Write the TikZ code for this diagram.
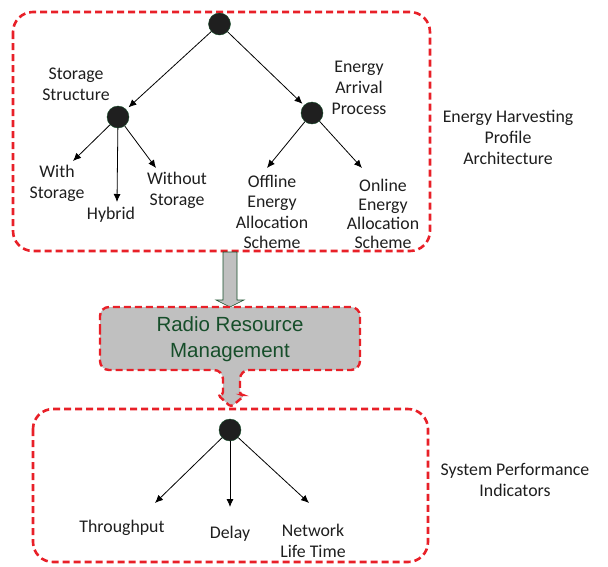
\documentclass[tikz,border=0pt]{standalone}
\usepackage{fontspec}
\setmainfont{Carlito}
\newfontfamily\rrmfont{Liberation Sans}
\usetikzlibrary{arrows.meta}

\definecolor{dashred}{RGB}{232,32,40}
\definecolor{rrmgreen}{RGB}{22,78,42}
\definecolor{blockgray}{RGB}{192,192,192}
\definecolor{inkgray}{RGB}{30,30,30}

\tikzstyle{vertex}=[circle,fill=black!88,draw=rrmgreen,minimum size=22pt,inner sep=0pt]
\tikzstyle{edge}=[draw,line width=0.8pt,-{Latex[length=8pt,width=7pt]}]
\tikzstyle{leaf}=[font=\fontsize{17.8}{21}\selectfont,align=center,text=inkgray,inner sep=0pt]
\tikzstyle{group}=[draw=dashred,line width=2.6pt,dash pattern=on 7pt off 4pt,rounded corners=20pt]
\tikzstyle{rrm}=[font=\rrmfont\fontsize{20.5}{26}\selectfont,align=center,text=rrmgreen]

\begin{document}
\begin{tikzpicture}[x=1pt,y=-1pt]
    \useasboundingbox (0,0) rectangle (608,566);
    % dashed frames
    \draw[group] (13,12) rectangle (430,251);
    \draw[group] (33,409) rectangle (428,562);

    % block arrow down to the RRM box
    \draw[fill=blockgray,draw=rrmgreen,line width=0.6pt] (223,252) -- (237,252) -- (237,300)
        -- (244,300) -- (230,307) -- (216,300) -- (223,300) -- cycle;

    % RRM callout with its pointer
    \draw[fill=blockgray,draw=dashred,line width=2.4pt,dash pattern=on 7pt off 4pt]
        [rounded corners=9pt] (100,340) |- (360,307) |- (240,370)
        [rounded corners=3pt] -- (240,395) -- (245,395) -- (231,407) -- (218,395) -- (223,395)
        [rounded corners=9pt] -- (223,370) -| (100,340) -- cycle;
    \node[rrm] (rrm) at (230,339) {Radio Resource\\Management};

    % tree vertices
    \foreach \pos/\name in {{(219.5,24)/root}, {(118,117)/store}, {(312,113)/arrival}, {(230,430)/spi}}
        \node[vertex] (\name) at \pos {};

    % loose arrow ends
    \foreach \x/\y/\name in {73/161/withS, 117/202/hyb, 156/168/woS, 267/168/offl, 362/168/onl,
                             155/503/thr, 230/507/del, 309/503/nlt}
        \coordinate (\name) at (\x,\y);

    % labels
    \node[leaf] (storeL) at (76,84) {Storage\\Structure};
    \node[leaf] (arrivalL) at (359,88) {Energy\\Arrival\\Process};
    \node[leaf] (withL) at (57,183) {With\\Storage};
    \node[leaf] (hybL) at (111,215) {Hybrid};
    \node[leaf] (woL) at (177,190) {Without\\Storage};
    \node[leaf,font=\fontsize{17.8}{20.3}\selectfont] (offL) at (272,212) {Offline\\Energy\\Allocation\\Scheme};
    \node[leaf,font=\fontsize{17.8}{19}\selectfont] (onL) at (383,214) {Online\\Energy\\Allocation\\Scheme};
    \node[leaf] (ehpL) at (508,137) {Energy Harvesting\\Profile\\Architecture};
    \node[leaf] (thrL) at (122,528) {Throughput};
    \node[leaf] (delL) at (230,534) {Delay};
    \node[leaf] (nltL) at (313,541) {Network\\Life Time};
    \node[leaf] (spiL) at (515,480) {System Performance\\Indicators};

    % connect vertices
    \path[edge,shorten >=3pt] (root) -- (store);
    \path[edge,shorten >=2pt] (root) -- (arrival);
    \foreach \source/\dest in {store/withS,store/hyb,store/woS,arrival/offl,arrival/onl,spi/thr,spi/del,spi/nlt}
        \path[edge] (\source) -- (\dest);
\end{tikzpicture}
\end{document}
